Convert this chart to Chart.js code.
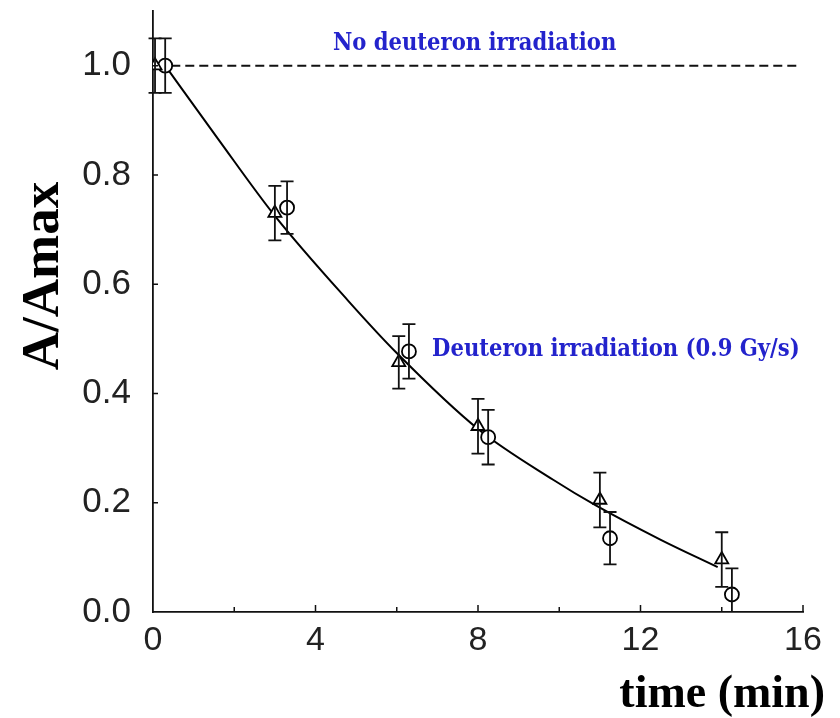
<!DOCTYPE html>
<html>
<head>
<meta charset="utf-8">
<script src="https://cdn.jsdelivr.net/npm/chart.js@4.4.0/dist/chart.umd.min.js"></script>
<style>
  html, body { margin: 0; padding: 0; background: #fff; }
  #wrap { width: 840px; height: 718px; }
</style>
</head>
<body>
<div id="wrap"><canvas id="c" width="840" height="718"></canvas></div>
<script>
// Measured activity (A/Amax) versus time, two runs with ±1σ error bars
const triTime  = [0.05, 3.0, 6.05, 8.0, 11.0, 14.0];
const triValue = [1.0, 0.73, 0.457, 0.34, 0.205, 0.096];
const triError = [0.05, 0.05, 0.048, 0.05, 0.05, 0.05];

const circTime  = [0.3, 3.3, 6.3, 8.25, 11.25, 14.25];
const circValue = [1.0, 0.74, 0.477, 0.32, 0.135, 0.032];
const circError = [0.05, 0.048, 0.05, 0.05, 0.048, 0.048];

// Fitted decay curve under deuteron irradiation
const fitTime  = [0.3, 1.6, 3.0, 4.8, 6.0, 8.0, 9.85, 10.9, 12.5, 13.9];
const fitValue = [1.0, 0.866, 0.725, 0.57, 0.474, 0.335, 0.242, 0.195, 0.132, 0.082];

// Reference level without irradiation
const refTime  = [0.45, 15.85];
const refValue = [1.0, 1.0];

const xTicks = [0, 4, 8, 12, 16];
const yTicks = [0.0, 0.2, 0.4, 0.6, 0.8, 1.0];

const labelNoIrr = 'No deuteron irradiation';
const labelIrr   = 'Deuteron irradiation (0.9 Gy/s)';
const xTitle = 'time (min)';
const yTitle = 'A/Amax';

const toXY = (xs, ys) => xs.map((x, i) => ({ x: x, y: ys[i] }));

const errorBars = {
  id: 'errorBars',
  afterDatasetsDraw(chart) {
    const ctx = chart.ctx;
    const xs = chart.scales.x, ys = chart.scales.y;
    const sets = [[triTime, triValue, triError], [circTime, circValue, circError]];
    ctx.save();
    ctx.strokeStyle = '#111';
    ctx.lineWidth = 1.8;
    sets.forEach(([t, v, e]) => {
      t.forEach((tt, i) => {
        const px = xs.getPixelForValue(tt);
        const top = ys.getPixelForValue(v[i] + e[i]);
        const bot = ys.getPixelForValue(Math.max(v[i] - e[i], 0));
        ctx.beginPath();
        ctx.moveTo(px, top); ctx.lineTo(px, bot);
        ctx.moveTo(px - 6.5, top); ctx.lineTo(px + 6.5, top);
        if (v[i] - e[i] > 0) { ctx.moveTo(px - 6.5, bot); ctx.lineTo(px + 6.5, bot); }
        ctx.stroke();
      });
    });
    ctx.restore();
  }
};

const decorations = {
  id: 'decorations',
  afterDraw(chart) {
    const ctx = chart.ctx;
    const xs = chart.scales.x, ys = chart.scales.y;
    const a = chart.chartArea;
    ctx.save();
    // inward tick marks
    ctx.strokeStyle = '#111';
    ctx.lineWidth = 1.5;
    ctx.beginPath();
    for (let t = 2; t <= 16; t += 2) {
      const px = xs.getPixelForValue(t);
      const len = (t % 4 === 0) ? 7 : 5;
      ctx.moveTo(px, a.bottom); ctx.lineTo(px, a.bottom - len);
    }
    for (let v = 0.2; v <= 1.0001; v += 0.2) {
      const py = ys.getPixelForValue(v);
      ctx.moveTo(a.left, py); ctx.lineTo(a.left + 5, py);
    }
    ctx.stroke();

    // curve annotations
    ctx.fillStyle = '#2323cc';
    ctx.font = 'bold 23.5px "DejaVu Serif Condensed", "DejaVu Serif", serif';
    ctx.textBaseline = 'middle';
    ctx.textAlign = 'left';
    ctx.fillText(labelNoIrr, xs.getPixelForValue(4.43), ys.getPixelForValue(1.04));
    ctx.fillText(labelIrr, xs.getPixelForValue(6.87), ys.getPixelForValue(0.48));

    // axis titles
    ctx.fillStyle = '#000';
    ctx.font = 'bold 46px "Liberation Serif", "Times New Roman", serif';
    ctx.textAlign = 'right';
    ctx.textBaseline = 'alphabetic';
    ctx.fillText(xTitle, 825, 707);

    ctx.font = 'bold 53px "Liberation Serif", "Times New Roman", serif';
    ctx.translate(58, 276);
    ctx.rotate(-Math.PI / 2);
    ctx.textAlign = 'center';
    ctx.fillText(yTitle, 0, 0);
    ctx.restore();
  }
};

new Chart(document.getElementById('c'), {
  type: 'scatter',
  data: {
    datasets: [
      {
        label: 'fit', type: 'line', data: toXY(fitTime, fitValue),
        borderColor: '#000', borderWidth: 2, pointRadius: 0,
        cubicInterpolationMode: 'monotone', fill: false, order: 3
      },
      {
        label: 'reference', type: 'line', data: toXY(refTime, refValue),
        borderColor: '#111', borderWidth: 2, borderDash: [9, 5], pointRadius: 0,
        fill: false, order: 4
      },
      {
        label: 'run 1', data: toXY(triTime, triValue),
        pointStyle: 'triangle', pointRadius: 7.5, pointBorderWidth: 1.8,
        pointBorderColor: '#000', pointBackgroundColor: '#fff', order: 1
      },
      {
        label: 'run 2', data: toXY(circTime, circValue),
        pointStyle: 'circle', pointRadius: 7, pointBorderWidth: 1.8,
        pointBorderColor: '#000', pointBackgroundColor: '#fff', order: 2
      }
    ]
  },
  options: {
    responsive: false,
    animation: false,
    events: [],
    layout: { padding: { top: 11, right: 37, left: 0, bottom: 0 } },
    plugins: { legend: { display: false }, tooltip: { enabled: false } },
    scales: {
      x: {
        type: 'linear', min: 0, max: 16,
        grid: { display: false, drawTicks: false },
        border: { display: true, color: '#111', width: 1.8 },
        afterBuildTicks: s => { s.ticks = xTicks.map(v => ({ value: v })); },
        afterFit: s => { s.height = 106; s.paddingLeft = 0; s.paddingRight = 0; },
        ticks: {
          padding: 8, color: '#222',
          font: { family: '"Liberation Sans", Arial, sans-serif', size: 34 },
          maxRotation: 0
        }
      },
      y: {
        type: 'linear', min: 0, max: 1.1,
        grid: { display: false, drawTicks: false },
        border: { display: true, color: '#111', width: 1.8 },
        afterBuildTicks: s => { s.ticks = yTicks.map(v => ({ value: v })); },
        afterFit: s => { s.width = 153; s.paddingTop = 0; s.paddingBottom = 0; },
        ticks: {
          padding: 22, color: '#222',
          font: { family: '"Liberation Sans", Arial, sans-serif', size: 35 },
          callback: v => v.toFixed(1)
        }
      }
    }
  },
  plugins: [errorBars, decorations]
});
</script>
</body>
</html>
